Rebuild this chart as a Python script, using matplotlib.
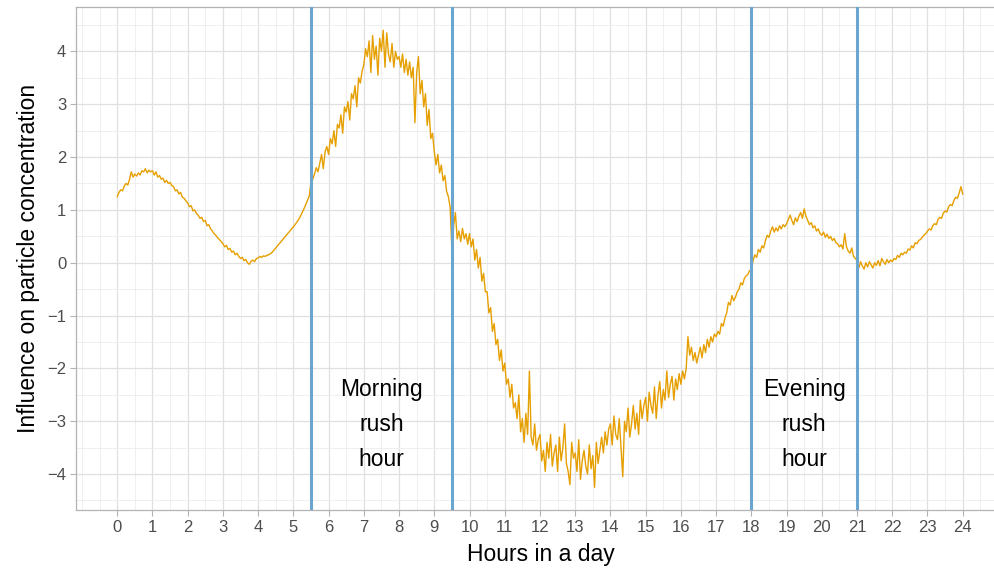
import numpy as np
import matplotlib.pyplot as plt

# hourly profile at 3-minute steps (20 values per hour)
h00 = [1.25, 1.33, 1.38, 1.36, 1.45, 1.50, 1.47, 1.58, 1.72, 1.62, 1.68, 1.64, 1.70, 1.66, 1.74, 1.72, 1.78, 1.70, 1.75, 1.72]
h01 = [1.74, 1.66, 1.72, 1.62, 1.65, 1.58, 1.60, 1.52, 1.56, 1.50, 1.52, 1.46, 1.44, 1.36, 1.38, 1.30, 1.33, 1.24, 1.22, 1.17]
h02 = [1.13, 1.06, 1.08, 0.98, 1.00, 0.93, 0.90, 0.84, 0.86, 0.78, 0.80, 0.70, 0.72, 0.64, 0.60, 0.55, 0.52, 0.47, 0.44, 0.40]
h03 = [0.36, 0.30, 0.33, 0.25, 0.27, 0.20, 0.22, 0.15, 0.18, 0.12, 0.08, 0.10, 0.04, 0.06, 0.00, -0.03, 0.03, 0.05, 0.02, 0.08]
h04 = [0.09, 0.12, 0.10, 0.13, 0.12, 0.14, 0.15, 0.17, 0.20, 0.24, 0.28, 0.32, 0.36, 0.40, 0.44, 0.48, 0.52, 0.56, 0.60, 0.64]
h05 = [0.68, 0.72, 0.77, 0.82, 0.88, 0.95, 1.02, 1.10, 1.18, 1.26, 1.52, 1.58, 1.68, 1.80, 1.72, 1.88, 2.05, 1.78, 2.10, 2.20]
h06 = [2.05, 2.35, 2.25, 2.50, 2.20, 2.62, 2.55, 2.80, 2.45, 2.95, 2.85, 3.05, 2.70, 3.20, 3.10, 3.35, 2.95, 3.50, 3.40, 3.62]
h07 = [3.75, 4.05, 3.90, 4.20, 3.60, 4.30, 3.85, 4.10, 3.55, 4.25, 4.00, 4.40, 3.70, 4.35, 3.95, 3.80, 4.15, 3.70, 4.00, 3.85]
h08 = [3.90, 3.70, 3.95, 3.60, 3.85, 3.55, 3.80, 3.50, 3.70, 2.65, 3.60, 3.90, 3.20, 3.45, 2.95, 3.20, 2.60, 2.90, 2.35, 2.45]
h09 = [2.10, 1.85, 2.05, 1.70, 1.85, 1.55, 1.65, 1.35, 1.25, 1.05, 0.25, 0.70, 0.95, 0.45, 0.60, 0.40, 0.65, 0.45, 0.55, 0.35]
h10 = [0.55, 0.30, 0.45, 0.05, 0.25, -0.10, 0.10, -0.35, -0.20, -0.55, -0.55, -0.95, -0.85, -1.30, -1.15, -1.55, -1.45, -1.85, -1.65, -2.05]
h11 = [-1.90, -2.30, -2.20, -2.55, -2.30, -2.75, -2.65, -2.95, -2.50, -3.20, -2.95, -3.40, -2.85, -3.25, -2.05, -3.30, -3.45, -3.05, -3.55, -3.35]
h12 = [-3.25, -3.75, -3.55, -3.95, -3.40, -3.70, -3.25, -3.85, -3.60, -3.45, -3.95, -3.30, -3.75, -3.50, -3.05, -3.80, -3.95, -4.20, -3.40, -3.70]
h13 = [-3.60, -3.95, -3.35, -4.10, -3.75, -3.55, -3.85, -4.00, -3.45, -3.90, -3.65, -4.25, -3.40, -3.80, -3.55, -3.30, -3.60, -3.20, -3.45, -3.15]
h14 = [-3.05, -3.45, -2.90, -3.25, -3.35, -2.95, -3.50, -4.05, -3.00, -3.20, -2.75, -3.30, -3.05, -2.70, -3.15, -2.85, -3.25, -2.60, -2.95, -2.70]
h15 = [-2.55, -3.00, -2.45, -2.70, -2.85, -2.35, -2.95, -2.50, -2.25, -2.75, -2.40, -2.60, -2.05, -2.55, -2.30, -2.15, -2.60, -2.20, -2.40, -2.10]
h16 = [-2.30, -2.05, -2.20, -2.00, -1.40, -1.75, -1.60, -1.85, -1.70, -1.90, -1.75, -1.60, -1.80, -1.55, -1.70, -1.45, -1.60, -1.40, -1.50, -1.35]
h17 = [-1.40, -1.30, -1.35, -1.15, -1.20, -1.05, -0.95, -0.75, -0.80, -0.62, -0.72, -0.65, -0.55, -0.50, -0.38, -0.42, -0.30, -0.25, -0.22, -0.15]
h18 = [-0.15, 0.05, 0.15, 0.10, 0.25, 0.20, 0.32, 0.28, 0.42, 0.52, 0.48, 0.60, 0.68, 0.58, 0.66, 0.60, 0.70, 0.64, 0.72, 0.68]
h19 = [0.74, 0.82, 0.90, 0.80, 0.72, 0.85, 0.78, 0.88, 0.95, 0.84, 1.02, 0.88, 0.80, 0.72, 0.76, 0.66, 0.70, 0.60, 0.64, 0.55]
h20 = [0.52, 0.58, 0.48, 0.54, 0.46, 0.50, 0.42, 0.46, 0.38, 0.36, 0.30, 0.34, 0.26, 0.55, 0.30, 0.22, 0.18, 0.28, 0.12, 0.08]
h21 = [0.05, -0.10, 0.02, -0.06, -0.12, 0.00, -0.08, 0.02, -0.04, -0.10, 0.00, -0.05, 0.04, -0.06, 0.08, 0.02, -0.03, 0.06, 0.00, 0.05]
h22 = [0.02, 0.08, 0.06, 0.14, 0.10, 0.18, 0.15, 0.20, 0.18, 0.26, 0.24, 0.32, 0.28, 0.38, 0.36, 0.42, 0.44, 0.48, 0.52, 0.55]
h23 = [0.60, 0.64, 0.62, 0.70, 0.74, 0.72, 0.82, 0.86, 0.84, 0.94, 0.98, 0.96, 1.06, 1.10, 1.08, 1.18, 1.24, 1.22, 1.32, 1.44]
h24 = [1.30]

influence = (h00 + h01 + h02 + h03 + h04 + h05 + h06 + h07 + h08 + h09 + h10 + h11
             + h12 + h13 + h14 + h15 + h16 + h17 + h18 + h19 + h20 + h21 + h22 + h23 + h24)
hours = np.arange(len(influence)) / 20.0

rush_lines = [5.5, 9.5, 18, 21]
labels = ["Morning\nrush\nhour", "Evening\nrush\nhour"]
label_x = [7.5, 19.5]
label_y = -3.06

plt.rcParams['font.family'] = ['Liberation Sans', 'DejaVu Sans']

fig = plt.figure(figsize=(9.94, 5.70), dpi=100)
ax = fig.add_axes([76 / 994, 60 / 570, 929 / 994, 503 / 570])

ax.plot(hours, influence, color='#E69F00', lw=1.0, zorder=3)
for xv in rush_lines:
    ax.axvline(xv, color='#6BA6D0', lw=2.2, zorder=4)
for tx, t in zip(label_x, labels):
    ax.text(tx, label_y, t, ha='center', va='center', fontsize=16.5,
            linespacing=1.68, color='black', zorder=5)

# ticks first: set_xticks would widen the limits otherwise
ax.set_xticks(range(25))
ax.set_yticks(range(-4, 5))
ax.set_yticklabels([str(v).replace('-', '\u2212') for v in range(-4, 5)])
ax.set_xticks(np.arange(-1, 25.1, 0.5), minor=True)
ax.set_yticks(np.arange(-4.5, 5, 0.5), minor=True)
ax.set_xlim(-1.17, 25.2)
ax.set_ylim(-4.68, 4.84)

ax.grid(which='major', color='#e0e0e0', lw=0.9)
ax.grid(which='minor', color='#ededed', lw=0.6)
ax.set_axisbelow(True)
ax.tick_params(which='major', length=4, width=0.8, color='#b3b3b3',
               labelsize=12, labelcolor='#4d4d4d', pad=3)
ax.tick_params(which='minor', length=0)
for s in ax.spines.values():
    s.set_color('#b3b3b3')
    s.set_linewidth(0.9)

ax.set_xlabel("Hours in a day", fontsize=16.5, labelpad=6)
ax.set_ylabel("Influence on particle concentration", fontsize=16.5, labelpad=5)

fig.savefig('out.png', dpi=100)
